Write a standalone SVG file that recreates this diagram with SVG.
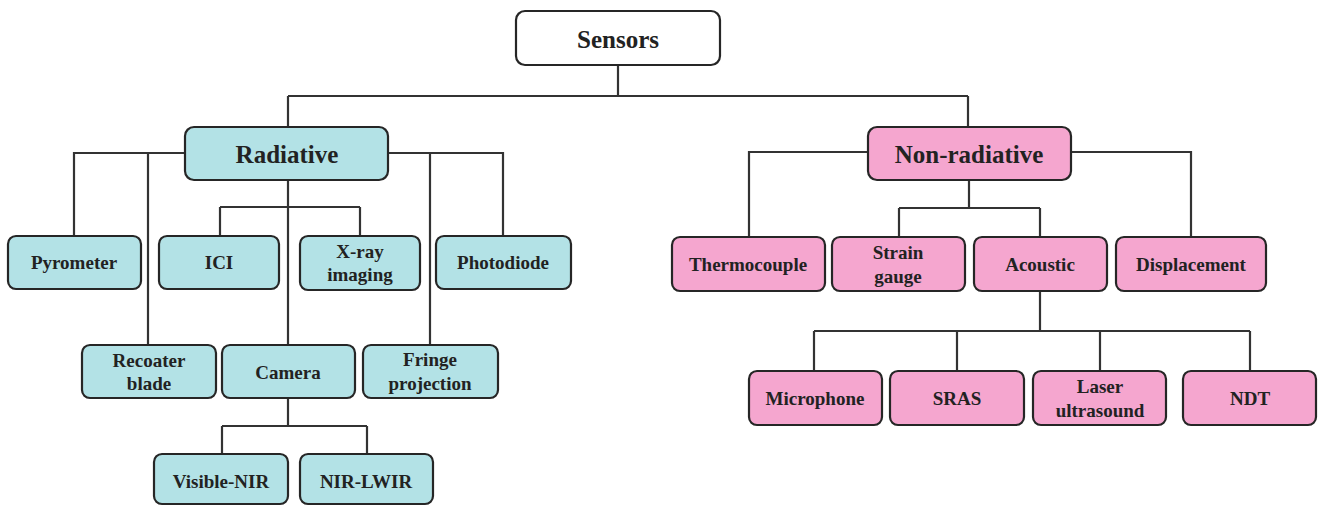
<svg xmlns="http://www.w3.org/2000/svg" width="1327" height="506" viewBox="0 0 1327 506">
<style>
.box{stroke:#262626;stroke-width:2.2}
.root{fill:#ffffff}
.rad{fill:#b3e2e6}
.non{fill:#f5a6cf}
.ln{fill:none;stroke:#333333;stroke-width:2.2}
text{font-weight:bold;fill:#222222;text-anchor:middle;dominant-baseline:central}
.big{font-size:25px}
.sm{font-size:19px}
</style>
<rect width="1327" height="506" fill="#ffffff"/>
<g id="connectors">
<path class="ln" d="M618 65V96M288 96H968M288 96V127M968 96V127"/>
<path class="ln" d="M185 153H74V236M148 153V345M388 153H503V236M430 153V345"/>
<path class="ln" d="M288 180V345M220 207H360M220 207V236M360 207V236"/>
<path class="ln" d="M288 398V426M222 426H367M222 426V454M367 426V454"/>
<path class="ln" d="M868 152H749V237M1070 152H1191V237"/>
<path class="ln" d="M969 180V208M899 208H1040M899 208V237M1040 208V237"/>
<path class="ln" d="M1040 291V331M814 331H1250M814 331V371M957 331V371M1100 331V371M1250 331V371"/>
</g>
<g font-family="'Liberation Serif', 'Times New Roman', serif">
<g id="sensors"><rect class="box root" x="516" y="11" width="204" height="54" rx="9"/><text class="big" x="618" y="39">Sensors</text></g>
<g id="radiative"><rect class="box rad" x="185" y="127" width="203" height="53" rx="9"/><text class="big" x="287" y="154">Radiative</text></g>
<g id="pyrometer"><rect class="box rad" x="8" y="236" width="133" height="53" rx="8"/><text class="sm" x="74" y="262">Pyrometer</text></g>
<g id="ici"><rect class="box rad" x="159" y="236" width="120" height="53" rx="8"/><text class="sm" x="219" y="262">ICI</text></g>
<g id="xray"><rect class="box rad" x="300" y="236" width="120" height="54" rx="8"/><text class="sm" x="360" y="251">X-ray</text><text class="sm" x="360" y="274">imaging</text></g>
<g id="photodiode"><rect class="box rad" x="436" y="236" width="135" height="53" rx="8"/><text class="sm" x="503" y="262">Photodiode</text></g>
<g id="recoater"><rect class="box rad" x="82" y="345" width="134" height="53" rx="8"/><text class="sm" x="149" y="360">Recoater</text><text class="sm" x="149" y="383">blade</text></g>
<g id="camera"><rect class="box rad" x="222" y="345" width="133" height="53" rx="8"/><text class="sm" x="288" y="372">Camera</text></g>
<g id="fringe"><rect class="box rad" x="363" y="345" width="135" height="53" rx="8"/><text class="sm" x="430" y="359">Fringe</text><text class="sm" x="430" y="383">projection</text></g>
<g id="visnir"><rect class="box rad" x="154" y="454" width="134" height="50" rx="8"/><text class="sm" x="221" y="481">Visible-NIR</text></g>
<g id="nirlwir"><rect class="box rad" x="300" y="454" width="133" height="50" rx="8"/><text class="sm" x="366" y="481">NIR-LWIR</text></g>
<g id="nonradiative"><rect class="box non" x="868" y="127" width="203" height="53" rx="9"/><text class="big" x="969" y="154">Non-radiative</text></g>
<g id="thermocouple"><rect class="box non" x="672" y="237" width="153" height="54" rx="8"/><text class="sm" x="748" y="264">Thermocouple</text></g>
<g id="strain"><rect class="box non" x="832" y="237" width="133" height="54" rx="8"/><text class="sm" x="898" y="252">Strain</text><text class="sm" x="898" y="276">gauge</text></g>
<g id="acoustic"><rect class="box non" x="974" y="237" width="133" height="54" rx="8"/><text class="sm" x="1040" y="264">Acoustic</text></g>
<g id="displacement"><rect class="box non" x="1116" y="237" width="150" height="54" rx="8"/><text class="sm" x="1191" y="264">Displacement</text></g>
<g id="microphone"><rect class="box non" x="749" y="371" width="133" height="54" rx="8"/><text class="sm" x="815" y="398">Microphone</text></g>
<g id="sras"><rect class="box non" x="890" y="371" width="134" height="54" rx="8"/><text class="sm" x="957" y="398">SRAS</text></g>
<g id="laser"><rect class="box non" x="1033" y="371" width="133" height="54" rx="8"/><text class="sm" x="1100" y="386">Laser</text><text class="sm" x="1100" y="410">ultrasound</text></g>
<g id="ndt"><rect class="box non" x="1183" y="371" width="133" height="54" rx="8"/><text class="sm" x="1250" y="398">NDT</text></g>
</g>
</svg>
